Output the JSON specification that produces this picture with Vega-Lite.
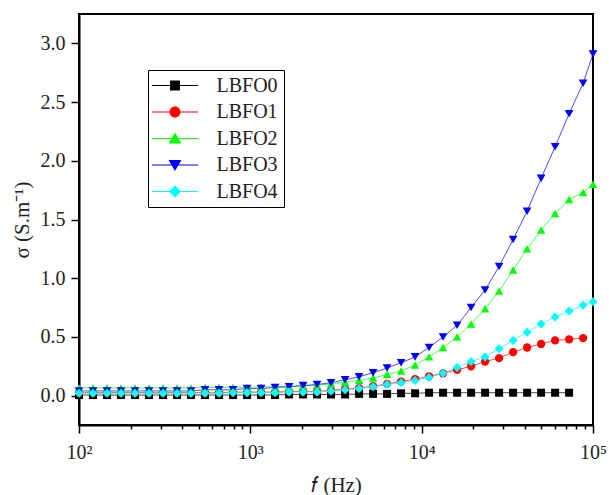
{
  "$schema": "https://vega.github.io/schema/vega-lite/v6.json",
  "width": 514,
  "height": 411,
  "autosize": "none",
  "padding": {"left": 79, "top": 14, "right": 16, "bottom": 70},
  "background": "white",
  "config": {
    "view": {"stroke": "#000", "strokeWidth": 2},
    "font": "Liberation Serif",
    "axis": {
      "domainColor": "#000", "domainWidth": 2, "tickColor": "#000", "tickWidth": 1.5,
      "labelFont": "Liberation Serif", "labelFontSize": 20, "labelColor": "#222",
      "titleFont": "Liberation Serif", "titleFontSize": 21, "titleColor": "#222",
      "titleFontWeight": "normal", "grid": false
    }
  },
  "resolve": {"scale": {"shape": "independent", "fill": "independent"}},
  "data": {"values": [
    {"freq":100,"sigma":0.005,"sample":"LBFO0"},{"freq":120.7,"sigma":0.005,"sample":"LBFO0"},{"freq":145.7,"sigma":0.005,"sample":"LBFO0"},{"freq":175.9,"sigma":0.005,"sample":"LBFO0"},{"freq":212.3,"sigma":0.005,"sample":"LBFO0"},{"freq":256.3,"sigma":0.005,"sample":"LBFO0"},{"freq":309.3,"sigma":0.005,"sample":"LBFO0"},{"freq":373.4,"sigma":0.005,"sample":"LBFO0"},{"freq":450.7,"sigma":0.005,"sample":"LBFO0"},{"freq":544,"sigma":0.005,"sample":"LBFO0"},{"freq":656.7,"sigma":0.005,"sample":"LBFO0"},{"freq":792.6,"sigma":0.005,"sample":"LBFO0"},{"freq":956.8,"sigma":0.005,"sample":"LBFO0"},{"freq":1155,"sigma":0.005,"sample":"LBFO0"},{"freq":1394,"sigma":0.005,"sample":"LBFO0"},{"freq":1683,"sigma":0.01,"sample":"LBFO0"},{"freq":2031,"sigma":0.01,"sample":"LBFO0"},{"freq":2452,"sigma":0.01,"sample":"LBFO0"},{"freq":2959,"sigma":0.01,"sample":"LBFO0"},{"freq":3572,"sigma":0.01,"sample":"LBFO0"},{"freq":4312,"sigma":0.015,"sample":"LBFO0"},{"freq":5204,"sigma":0.015,"sample":"LBFO0"},{"freq":6282,"sigma":0.015,"sample":"LBFO0"},{"freq":7583,"sigma":0.02,"sample":"LBFO0"},{"freq":9152,"sigma":0.02,"sample":"LBFO0"},{"freq":11047,"sigma":0.025,"sample":"LBFO0"},{"freq":13335,"sigma":0.025,"sample":"LBFO0"},{"freq":16096,"sigma":0.025,"sample":"LBFO0"},{"freq":19428,"sigma":0.025,"sample":"LBFO0"},{"freq":23452,"sigma":0.025,"sample":"LBFO0"},{"freq":28307,"sigma":0.025,"sample":"LBFO0"},{"freq":34168,"sigma":0.025,"sample":"LBFO0"},{"freq":41243,"sigma":0.025,"sample":"LBFO0"},{"freq":49781,"sigma":0.025,"sample":"LBFO0"},{"freq":60088,"sigma":0.025,"sample":"LBFO0"},{"freq":72530,"sigma":0.025,"sample":"LBFO0"},

    {"freq":100,"sigma":0.025,"sample":"LBFO1"},{"freq":120.7,"sigma":0.025,"sample":"LBFO1"},{"freq":145.7,"sigma":0.025,"sample":"LBFO1"},{"freq":175.9,"sigma":0.025,"sample":"LBFO1"},{"freq":212.3,"sigma":0.025,"sample":"LBFO1"},{"freq":256.3,"sigma":0.025,"sample":"LBFO1"},{"freq":309.3,"sigma":0.025,"sample":"LBFO1"},{"freq":373.4,"sigma":0.025,"sample":"LBFO1"},{"freq":450.7,"sigma":0.025,"sample":"LBFO1"},{"freq":544,"sigma":0.025,"sample":"LBFO1"},{"freq":656.7,"sigma":0.025,"sample":"LBFO1"},{"freq":792.6,"sigma":0.03,"sample":"LBFO1"},{"freq":956.8,"sigma":0.03,"sample":"LBFO1"},{"freq":1155,"sigma":0.03,"sample":"LBFO1"},{"freq":1394,"sigma":0.03,"sample":"LBFO1"},{"freq":1683,"sigma":0.035,"sample":"LBFO1"},{"freq":2031,"sigma":0.035,"sample":"LBFO1"},{"freq":2452,"sigma":0.035,"sample":"LBFO1"},{"freq":2959,"sigma":0.045,"sample":"LBFO1"},{"freq":3572,"sigma":0.055,"sample":"LBFO1"},{"freq":4312,"sigma":0.065,"sample":"LBFO1"},{"freq":5204,"sigma":0.08,"sample":"LBFO1"},{"freq":6282,"sigma":0.1,"sample":"LBFO1"},{"freq":7583,"sigma":0.12,"sample":"LBFO1"},{"freq":9152,"sigma":0.14,"sample":"LBFO1"},{"freq":11047,"sigma":0.165,"sample":"LBFO1"},{"freq":13335,"sigma":0.19,"sample":"LBFO1"},{"freq":16096,"sigma":0.22,"sample":"LBFO1"},{"freq":19428,"sigma":0.25,"sample":"LBFO1"},{"freq":23452,"sigma":0.29,"sample":"LBFO1"},{"freq":28307,"sigma":0.32,"sample":"LBFO1"},{"freq":34168,"sigma":0.37,"sample":"LBFO1"},{"freq":41243,"sigma":0.41,"sample":"LBFO1"},{"freq":49781,"sigma":0.44,"sample":"LBFO1"},{"freq":60088,"sigma":0.47,"sample":"LBFO1"},{"freq":72530,"sigma":0.48,"sample":"LBFO1"},{"freq":87550,"sigma":0.49,"sample":"LBFO1"},

    {"freq":100,"sigma":0.065,"sample":"LBFO2"},{"freq":120.7,"sigma":0.065,"sample":"LBFO2"},{"freq":145.7,"sigma":0.065,"sample":"LBFO2"},{"freq":175.9,"sigma":0.065,"sample":"LBFO2"},{"freq":212.3,"sigma":0.065,"sample":"LBFO2"},{"freq":256.3,"sigma":0.065,"sample":"LBFO2"},{"freq":309.3,"sigma":0.065,"sample":"LBFO2"},{"freq":373.4,"sigma":0.065,"sample":"LBFO2"},{"freq":450.7,"sigma":0.065,"sample":"LBFO2"},{"freq":544,"sigma":0.07,"sample":"LBFO2"},{"freq":656.7,"sigma":0.07,"sample":"LBFO2"},{"freq":792.6,"sigma":0.07,"sample":"LBFO2"},{"freq":956.8,"sigma":0.07,"sample":"LBFO2"},{"freq":1155,"sigma":0.075,"sample":"LBFO2"},{"freq":1394,"sigma":0.075,"sample":"LBFO2"},{"freq":1683,"sigma":0.08,"sample":"LBFO2"},{"freq":2031,"sigma":0.085,"sample":"LBFO2"},{"freq":2452,"sigma":0.09,"sample":"LBFO2"},{"freq":2959,"sigma":0.1,"sample":"LBFO2"},{"freq":3572,"sigma":0.115,"sample":"LBFO2"},{"freq":4312,"sigma":0.13,"sample":"LBFO2"},{"freq":5204,"sigma":0.15,"sample":"LBFO2"},{"freq":6282,"sigma":0.18,"sample":"LBFO2"},{"freq":7583,"sigma":0.21,"sample":"LBFO2"},{"freq":9152,"sigma":0.26,"sample":"LBFO2"},{"freq":11047,"sigma":0.33,"sample":"LBFO2"},{"freq":13335,"sigma":0.41,"sample":"LBFO2"},{"freq":16096,"sigma":0.5,"sample":"LBFO2"},{"freq":19428,"sigma":0.61,"sample":"LBFO2"},{"freq":23452,"sigma":0.74,"sample":"LBFO2"},{"freq":28307,"sigma":0.89,"sample":"LBFO2"},{"freq":34168,"sigma":1.07,"sample":"LBFO2"},{"freq":41243,"sigma":1.25,"sample":"LBFO2"},{"freq":49781,"sigma":1.41,"sample":"LBFO2"},{"freq":60088,"sigma":1.55,"sample":"LBFO2"},{"freq":72530,"sigma":1.67,"sample":"LBFO2"},{"freq":87550,"sigma":1.73,"sample":"LBFO2"},{"freq":100000,"sigma":1.8,"sample":"LBFO2"},

    {"freq":100,"sigma":0.04,"sample":"LBFO3"},{"freq":120.7,"sigma":0.04,"sample":"LBFO3"},{"freq":145.7,"sigma":0.04,"sample":"LBFO3"},{"freq":175.9,"sigma":0.04,"sample":"LBFO3"},{"freq":212.3,"sigma":0.04,"sample":"LBFO3"},{"freq":256.3,"sigma":0.04,"sample":"LBFO3"},{"freq":309.3,"sigma":0.04,"sample":"LBFO3"},{"freq":373.4,"sigma":0.04,"sample":"LBFO3"},{"freq":450.7,"sigma":0.04,"sample":"LBFO3"},{"freq":544,"sigma":0.05,"sample":"LBFO3"},{"freq":656.7,"sigma":0.05,"sample":"LBFO3"},{"freq":792.6,"sigma":0.05,"sample":"LBFO3"},{"freq":956.8,"sigma":0.06,"sample":"LBFO3"},{"freq":1155,"sigma":0.06,"sample":"LBFO3"},{"freq":1394,"sigma":0.07,"sample":"LBFO3"},{"freq":1683,"sigma":0.075,"sample":"LBFO3"},{"freq":2031,"sigma":0.085,"sample":"LBFO3"},{"freq":2452,"sigma":0.095,"sample":"LBFO3"},{"freq":2959,"sigma":0.11,"sample":"LBFO3"},{"freq":3572,"sigma":0.135,"sample":"LBFO3"},{"freq":4312,"sigma":0.16,"sample":"LBFO3"},{"freq":5204,"sigma":0.195,"sample":"LBFO3"},{"freq":6282,"sigma":0.235,"sample":"LBFO3"},{"freq":7583,"sigma":0.28,"sample":"LBFO3"},{"freq":9152,"sigma":0.33,"sample":"LBFO3"},{"freq":11047,"sigma":0.41,"sample":"LBFO3"},{"freq":13335,"sigma":0.5,"sample":"LBFO3"},{"freq":16096,"sigma":0.6,"sample":"LBFO3"},{"freq":19428,"sigma":0.75,"sample":"LBFO3"},{"freq":23452,"sigma":0.9,"sample":"LBFO3"},{"freq":28307,"sigma":1.1,"sample":"LBFO3"},{"freq":34168,"sigma":1.33,"sample":"LBFO3"},{"freq":41243,"sigma":1.57,"sample":"LBFO3"},{"freq":49781,"sigma":1.85,"sample":"LBFO3"},{"freq":60088,"sigma":2.12,"sample":"LBFO3"},{"freq":72530,"sigma":2.4,"sample":"LBFO3"},{"freq":87550,"sigma":2.66,"sample":"LBFO3"},{"freq":100000,"sigma":2.91,"sample":"LBFO3"},

    {"freq":100,"sigma":0.02,"sample":"LBFO4"},{"freq":120.7,"sigma":0.02,"sample":"LBFO4"},{"freq":145.7,"sigma":0.02,"sample":"LBFO4"},{"freq":175.9,"sigma":0.02,"sample":"LBFO4"},{"freq":212.3,"sigma":0.02,"sample":"LBFO4"},{"freq":256.3,"sigma":0.02,"sample":"LBFO4"},{"freq":309.3,"sigma":0.02,"sample":"LBFO4"},{"freq":373.4,"sigma":0.02,"sample":"LBFO4"},{"freq":450.7,"sigma":0.02,"sample":"LBFO4"},{"freq":544,"sigma":0.02,"sample":"LBFO4"},{"freq":656.7,"sigma":0.02,"sample":"LBFO4"},{"freq":792.6,"sigma":0.025,"sample":"LBFO4"},{"freq":956.8,"sigma":0.025,"sample":"LBFO4"},{"freq":1155,"sigma":0.025,"sample":"LBFO4"},{"freq":1394,"sigma":0.025,"sample":"LBFO4"},{"freq":1683,"sigma":0.03,"sample":"LBFO4"},{"freq":2031,"sigma":0.03,"sample":"LBFO4"},{"freq":2452,"sigma":0.03,"sample":"LBFO4"},{"freq":2959,"sigma":0.04,"sample":"LBFO4"},{"freq":3572,"sigma":0.05,"sample":"LBFO4"},{"freq":4312,"sigma":0.06,"sample":"LBFO4"},{"freq":5204,"sigma":0.075,"sample":"LBFO4"},{"freq":6282,"sigma":0.095,"sample":"LBFO4"},{"freq":7583,"sigma":0.11,"sample":"LBFO4"},{"freq":9152,"sigma":0.13,"sample":"LBFO4"},{"freq":11047,"sigma":0.155,"sample":"LBFO4"},{"freq":13335,"sigma":0.19,"sample":"LBFO4"},{"freq":16096,"sigma":0.24,"sample":"LBFO4"},{"freq":19428,"sigma":0.29,"sample":"LBFO4"},{"freq":23452,"sigma":0.33,"sample":"LBFO4"},{"freq":28307,"sigma":0.4,"sample":"LBFO4"},{"freq":34168,"sigma":0.47,"sample":"LBFO4"},{"freq":41243,"sigma":0.54,"sample":"LBFO4"},{"freq":49781,"sigma":0.61,"sample":"LBFO4"},{"freq":60088,"sigma":0.67,"sample":"LBFO4"},{"freq":72530,"sigma":0.72,"sample":"LBFO4"},{"freq":87550,"sigma":0.77,"sample":"LBFO4"},{"freq":100000,"sigma":0.8,"sample":"LBFO4"}
  ]},
  "layer": [
    {
      "mark": {"type": "line", "strokeWidth": 1, "opacity": 0.7},
      "encoding": {
        "x": {
          "field": "freq", "type": "quantitative",
          "scale": {"type": "log", "domain": [100, 100000]},
          "axis": {
            "values": [100,200,300,400,500,600,700,800,900,1000,2000,3000,4000,5000,6000,7000,8000,9000,10000,20000,30000,40000,50000,60000,70000,80000,90000,100000],
            "labelExpr": "datum.value == 100 ? '10²' : datum.value == 1000 ? '10³' : datum.value == 10000 ? '10⁴' : datum.value == 100000 ? '10⁵' : ''",
            "labelOverlap": false,
            "labelFlush": false,
            "tickSize": {"condition": {"test": "datum.value == 100 || datum.value == 1000 || datum.value == 10000 || datum.value == 100000", "value": 8}, "value": 4},
            "labelPadding": 9,
            "title": "𝑓 (Hz)",
            "titlePadding": 12
          }
        },
        "y": {
          "field": "sigma", "type": "quantitative",
          "scale": {"domain": [-0.25, 3.25], "nice": false, "zero": false},
          "axis": {
            "values": [0,0.25,0.5,0.75,1,1.25,1.5,1.75,2,2.25,2.5,2.75,3],
            "labelExpr": "datum.value * 2 == round(datum.value * 2) ? format(datum.value, '.1f') : ''",
            "labelOverlap": false,
            "labelFlush": false,
            "tickSize": {"condition": {"test": "datum.value * 2 == round(datum.value * 2)", "value": 8}, "value": 4},
            "labelPadding": 6,
            "title": "σ (S.m⁻¹)",
            "titlePadding": 8
          }
        },
        "stroke": {
          "field": "sample", "type": "nominal",
          "scale": {"domain": ["LBFO0", "LBFO1", "LBFO2", "LBFO3", "LBFO4"], "range": ["#000000", "#ff0000", "#00ff00", "#0000ff", "#00ffff"]},
          "legend": null
        }
      }
    },
    {
      "mark": {"type": "point", "filled": true, "opacity": 1},
      "encoding": {
        "x": {"field": "freq", "type": "quantitative"},
        "y": {"field": "sigma", "type": "quantitative"},
        "fill": {
          "field": "sample", "type": "nominal",
          "scale": {"domain": ["LBFO0", "LBFO1", "LBFO2", "LBFO3", "LBFO4"], "range": ["#000000", "#ff0000", "#00ff00", "#0000ff", "#00ffff"]},
          "legend": null
        },
        "shape": {
          "field": "sample", "type": "nominal",
          "scale": {"domain": ["LBFO0", "LBFO1", "LBFO2", "LBFO3", "LBFO4"], "range": ["square", "circle", "triangle-up", "triangle-down", "diamond"]},
          "legend": null
        },
        "size": {
          "field": "sample", "type": "nominal",
          "scale": {"domain": ["LBFO0", "LBFO1", "LBFO2", "LBFO3", "LBFO4"], "range": [64, 81, 130, 130, 110]},
          "legend": null
        }
      }
    },
    {
      "transform": [{"filter": "false"}],
      "mark": {"type": "point", "filled": true, "opacity": 1},
      "encoding": {
        "x": {"field": "freq", "type": "quantitative"},
        "y": {"field": "sigma", "type": "quantitative"},
        "fill": {
          "field": "sample", "type": "nominal",
          "scale": {"domain": ["LBFO0", "LBFO1", "LBFO2", "LBFO3", "LBFO4"], "range": ["#000000", "#ff0000", "#00ff00", "#0000ff", "#00ffff"]},
          "legend": {
            "title": null, "orient": "none", "legendX": 69, "legendY": 56,
            "padding": 5.5, "rowPadding": 6.5,
            "symbolSize": 196, "symbolStrokeWidth": 0, "symbolOpacity": 1,
            "symbolOffset": 11.5, "labelOffset": 31.5,
            "labelFont": "Liberation Serif", "labelFontSize": 20, "labelColor": "#222",
            "strokeColor": "#000"
          }
        },
        "shape": {
          "field": "sample", "type": "nominal",
          "scale": {"domain": ["LBFO0", "LBFO1", "LBFO2", "LBFO3", "LBFO4"], "range": [
            "M-3.3,-0.07L3.3,-0.07L3.3,0.07L-3.3,0.07ZM-0.71,-0.71L0.71,-0.71L0.71,0.71L-0.71,0.71Z",
            "M-3.3,-0.07L3.3,-0.07L3.3,0.07L-3.3,0.07ZM-0.79,0A0.79,0.79,0,1,1,0.79,0A0.79,0.79,0,1,1,-0.79,0Z",
            "M-3.3,-0.07L3.3,-0.07L3.3,0.07L-3.3,0.07ZM0,-0.85L0.93,0.7L-0.93,0.7Z",
            "M-3.3,-0.07L3.3,-0.07L3.3,0.07L-3.3,0.07ZM0,0.85L-0.93,-0.7L0.93,-0.7Z",
            "M-3.3,-0.07L3.3,-0.07L3.3,0.07L-3.3,0.07ZM0,-0.86L0.86,0L0,0.86L-0.86,0Z"
          ]},
          "legend": {
            "title": null, "orient": "none", "legendX": 69, "legendY": 56,
            "padding": 5.5, "rowPadding": 6.5,
            "symbolSize": 196, "symbolStrokeWidth": 0, "symbolOpacity": 1,
            "symbolOffset": 11.5, "labelOffset": 31.5,
            "labelFont": "Liberation Serif", "labelFontSize": 20, "labelColor": "#222",
            "strokeColor": "#000"
          }
        }
      }
    }
  ]
}
